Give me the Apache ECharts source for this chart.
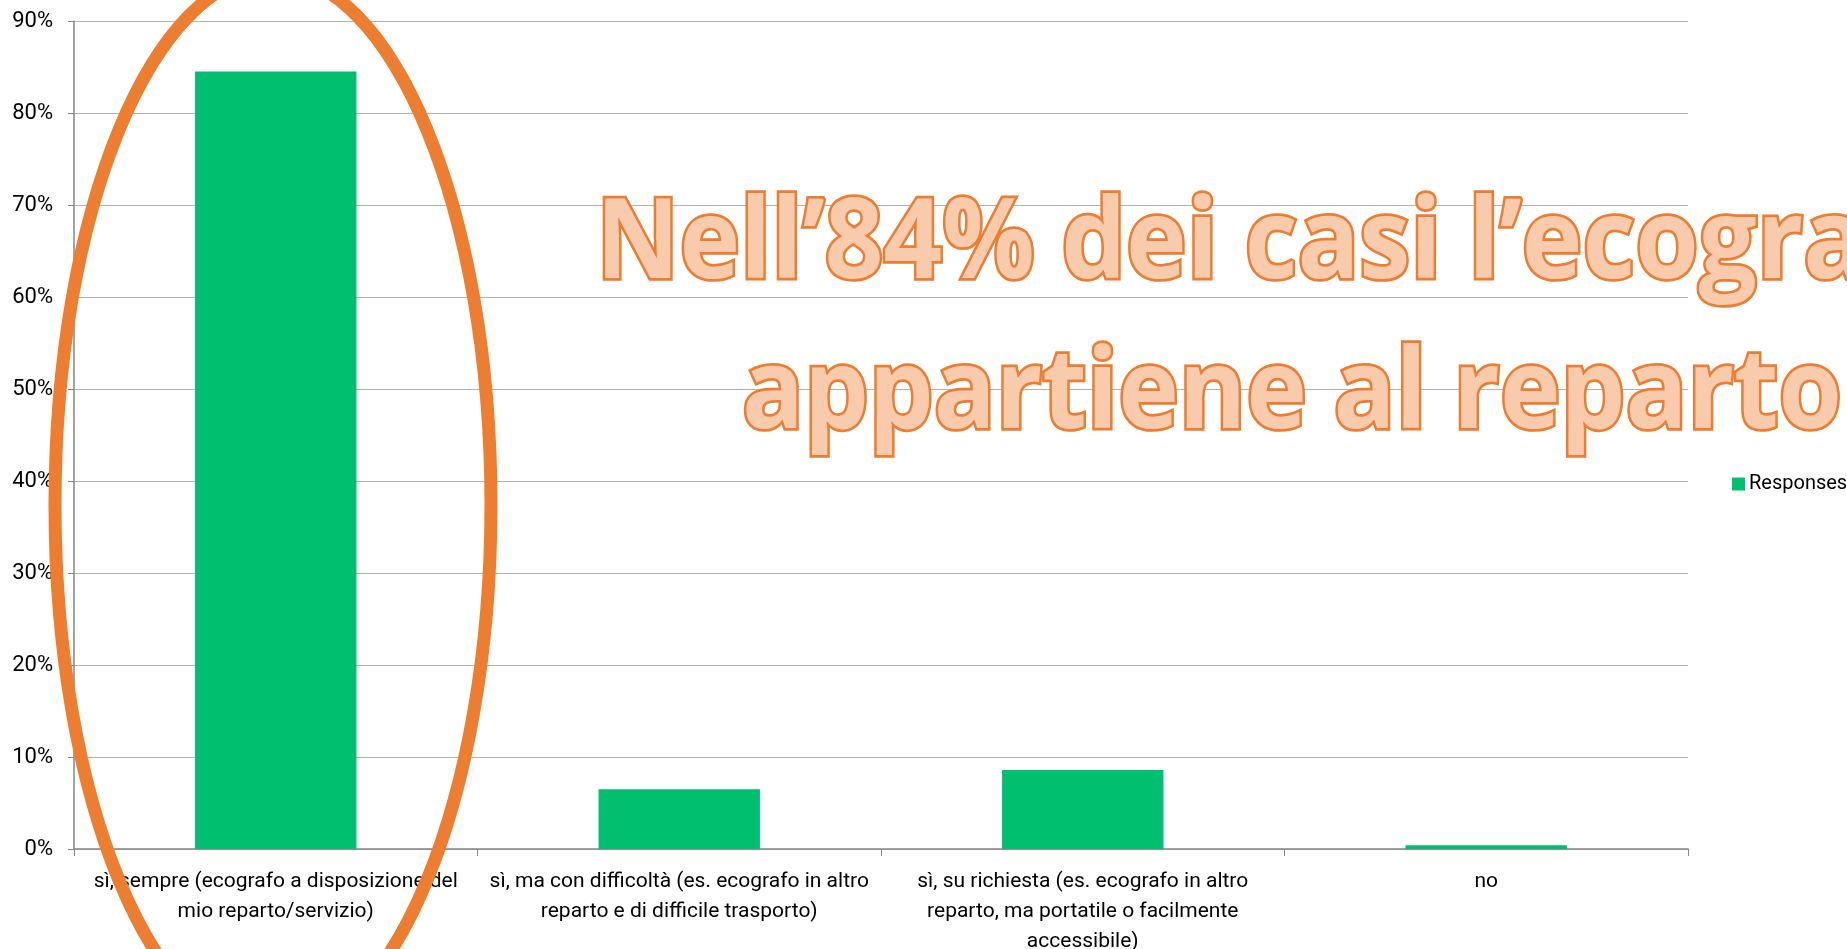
<!DOCTYPE html>
<html>
<head>
<meta charset="utf-8">
<script src="https://cdn.jsdelivr.net/npm/echarts@6/dist/echarts.min.js"></script>
<style>
  html, body { margin: 0; padding: 0; background: #fff; }
  #chart { width: 1847px; height: 949px; }
</style>
</head>
<body>
<div id="chart"></div>
<script>
// survey answers (percent of responses), labels wrapped as on the slide
var categories = [
    'sì, sempre (ecografo a disposizione del\nmio reparto/servizio)',
    'sì, ma con difficoltà (es. ecografo in altro\nreparto e di difficile trasporto)',
    'sì, su richiesta (es. ecografo in altro\nreparto, ma portatile o facilmente\naccessibile)',
    'no'
];
var responses = [84.5, 6.5, 8.6, 0.4];
var seriesName = 'Responses';
var calloutLines = ['Nell’84% dei casi l’ecografo', 'appartiene al reparto'];

var labelFont = "'Liberation Sans Narrow', 'Roboto', sans-serif";
var calloutFont = "'Open Sans', sans-serif";
var calloutSize = 112;

// squeeze the big callout so it has about the same width as in the slide
function calloutScale() {
    var ctx = document.createElement('canvas').getContext('2d');
    ctx.font = 'bold ' + calloutSize + 'px ' + calloutFont;
    var w = ctx.measureText(calloutLines[1]).width;
    return 1100 / w;
}

var chart = echarts.init(document.getElementById('chart'));
var sx = calloutScale();

function callout(text, x, y) {
    return {
        type: 'text',
        x: x, y: y,
        scaleX: sx,
        z: 50,
        style: {
            text: text,
            font: 'bold ' + calloutSize + 'px ' + calloutFont,
            fill: '#f8cbad',
            stroke: '#ed7d31',
            lineWidth: 5.5,
            lineJoin: 'round',
            align: 'left',
            verticalAlign: 'middle'
        }
    };
}

var option = {
    animation: false,
    grid: { left: 74, right: 159, top: 21, bottom: 100, outerBoundsMode: 'none' },
    legend: {
        data: [seriesName],
        left: 1727,
        top: 469,
        itemWidth: 13,
        itemHeight: 13,
        itemGap: 6,
        icon: 'rect',
        textStyle: { fontFamily: labelFont, fontSize: 20, color: '#000', padding: [0, 0, 0, -1] }
    },
    xAxis: {
        type: 'category',
        data: categories,
        axisLine: { lineStyle: { color: '#868686', width: 1.5 } },
        axisTick: { show: true, length: 7, lineStyle: { color: '#868686' } },
        axisLabel: {
            interval: 0,
            margin: 18,
            color: '#000',
            fontFamily: labelFont,
            fontSize: 21,
            lineHeight: 30
        }
    },
    yAxis: {
        type: 'value',
        min: 0,
        max: 90,
        interval: 10,
        axisLine: { show: true, lineStyle: { color: '#868686', width: 1.5 } },
        axisTick: { show: true, length: 6, lineStyle: { color: '#868686' } },
        axisLabel: {
            formatter: '{value}%',
            margin: 21,
            color: '#000',
            fontFamily: labelFont,
            fontSize: 22
        },
        splitLine: { lineStyle: { color: '#b3b3b3', width: 1.2 } }
    },
    series: [{
        name: seriesName,
        type: 'bar',
        data: responses,
        barCategoryGap: '60%',
        itemStyle: { color: '#00bf6f' }
    }],
    graphic: [
        callout(calloutLines[0], 596, 246),
        callout(calloutLines[1], 742, 396),
        {
            type: 'ellipse',
            z: 60,
            shape: { cx: 273, cy: 505, rx: 218, ry: 530 },
            style: { fill: null, stroke: '#ed7d31', lineWidth: 13 }
        }
    ]
};

chart.setOption(option);
</script>
</body>
</html>
